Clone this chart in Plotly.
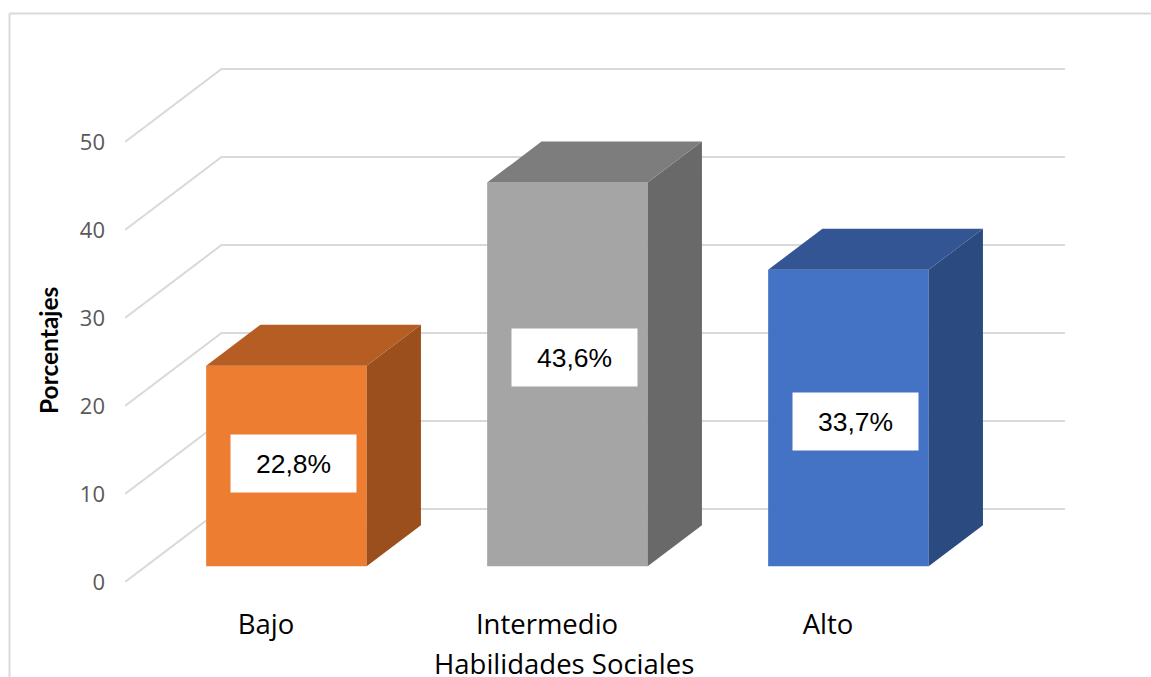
import plotly.graph_objects as go

categories = ["Bajo", "Intermedio", "Alto"]
values = [22.8, 43.6, 33.7]
value_labels = ["22,8%", "43,6%", "33,7%"]
label_heights = [13.5, 25.55, 18.2]
y_ticks = [0, 10, 20, 30, 40, 50]

front_colors = ["#ED7D31", "#A5A5A5", "#4472C4"]
side_colors = ["#9A4F1C", "#696969", "#2A4A80"]
top_colors = ["#B55D22", "#7D7D7D", "#335593"]
GRID = "#D9D9D9"

# figure geometry
W, H = 1151, 677
L, R, T, B = 125, 1065, 60, 582
X_PER_CAT = 281.0
Y_PER_UNIT = 8.8
X0 = 266.0
x_range = [(L - X0) / X_PER_CAT, (R - X0) / X_PER_CAT]
y_range = [0, (B - T) / Y_PER_UNIT]

# oblique projection offsets, in axis units
WALL_DX, WALL_DY = 96.5 / X_PER_CAT, 73 / Y_PER_UNIT
BAR_DX, BAR_DY = 20.4 / X_PER_CAT, 15.7 / Y_PER_UNIT
DEPTH_DX, DEPTH_DY = 54.3 / X_PER_CAT, 41 / Y_PER_UNIT
BAR_W = 160.5 / X_PER_CAT
LABEL_DX = 0.097


def px(x):
    return (x - L) / (R - L)


def py(y):
    return (B - y) / (B - T)


fig = go.Figure()

# wall gridlines (base axes, drawn under the overlaid bars)
for t in y_ticks:
    fig.add_trace(go.Scatter(
        x=[x_range[0], x_range[0] + WALL_DX, x_range[1]],
        y=[t, t + WALL_DY, t + WALL_DY],
        mode="lines", line=dict(color=GRID, width=2),
        hoverinfo="skip", showlegend=False, xaxis="x", yaxis="y"))

# bar fronts and their depth faces
for i, v in enumerate(values):
    left = i + BAR_DX - BAR_W / 2
    right = i + BAR_DX + BAR_W / 2
    bottom = BAR_DY
    top = BAR_DY + v
    fig.add_trace(go.Bar(
        x=[i + BAR_DX], y=[v], base=[BAR_DY], width=[BAR_W],
        marker=dict(color=front_colors[i], line=dict(width=0)),
        hoverinfo="skip", showlegend=False, xaxis="x2", yaxis="y2"))
    fig.add_trace(go.Scatter(
        x=[right, right + DEPTH_DX, right + DEPTH_DX, right, right],
        y=[bottom, bottom + DEPTH_DY, top + DEPTH_DY, top, bottom],
        mode="lines", line=dict(width=0), fill="toself", fillcolor=side_colors[i],
        hoverinfo="skip", showlegend=False, xaxis="x2", yaxis="y2"))
    fig.add_trace(go.Scatter(
        x=[left, right, right + DEPTH_DX, left + DEPTH_DX, left],
        y=[top, top, top + DEPTH_DY, top + DEPTH_DY, top],
        mode="lines", line=dict(width=0), fill="toself", fillcolor=top_colors[i],
        hoverinfo="skip", showlegend=False, xaxis="x2", yaxis="y2"))

annotations = [
    dict(x=i + LABEL_DX, y=label_heights[i], xref="x", yref="y", text=value_labels[i],
         showarrow=False, bgcolor="white", width=125, height=57, borderpad=0,
         align="center", valign="middle",
         font=dict(family="Liberation Sans", size=26.5, color="black"))
    for i in range(len(values))
]
annotations.append(dict(
    x=px(564), y=py(663), xref="paper", yref="paper", text="Habilidades Sociales",
    xanchor="center", yanchor="middle",
    showarrow=False, font=dict(family="Open Sans", size=27.5, color="black")))
annotations.append(dict(
    x=px(48), y=py(351), xref="paper", yref="paper", text="<b>Porcentajes</b>",
    xanchor="center", yanchor="middle",
    textangle=-90, showarrow=False, font=dict(family="Lato", size=24.5, color="black")))

# outer frame of the chart area
frame = dict(color=GRID, width=2)
shapes = [
    dict(type="line", xref="paper", yref="paper", x0=px(9.5), x1=px(W + 2),
         y0=py(13.5), y1=py(13.5), line=frame),
    dict(type="line", xref="paper", yref="paper", x0=px(9.5), x1=px(9.5),
         y0=py(13.5), y1=py(H + 2), line=frame),
]

fig.update_layout(
    width=W, height=H, autosize=False,
    margin=dict(l=L, r=W - R, t=T, b=H - B, pad=0),
    paper_bgcolor="white", plot_bgcolor="white",
    barmode="overlay", showlegend=False,
    xaxis=dict(range=x_range, tickmode="array", tickvals=list(range(len(categories))),
               ticktext=categories, showgrid=False, zeroline=False, showline=False,
               ticks="", ticklabelstandoff=23,
               tickfont=dict(family="Open Sans", size=27.5, color="black")),
    yaxis=dict(range=y_range, tickmode="array", tickvals=y_ticks, showgrid=False,
               zeroline=False, showline=False, ticks="", ticklabelstandoff=19,
               tickfont=dict(family="Open Sans", size=22, color="#595959")),
    xaxis2=dict(range=x_range, overlaying="x", visible=False),
    yaxis2=dict(range=y_range, overlaying="y", visible=False),
    annotations=annotations, shapes=shapes,
)

fig.write_html("out.html", config=dict(displayModeBar=False),
               post_script="document.body.style.margin='0';document.body.style.overflow='hidden';")
